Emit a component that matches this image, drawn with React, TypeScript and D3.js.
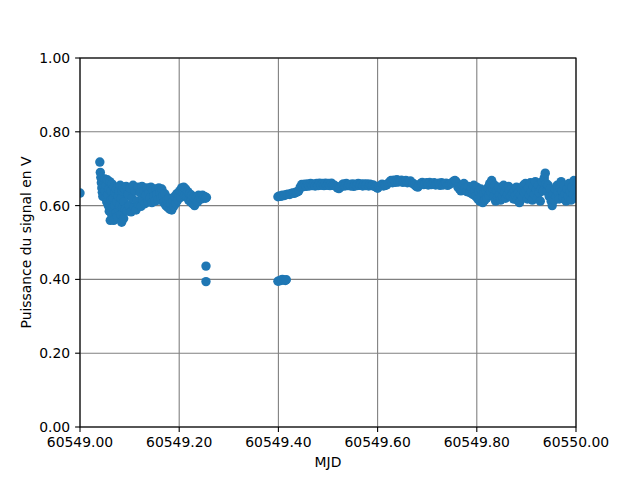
import * as React from 'react'
import * as d3 from 'd3'

// MJD day of the run; times below are fractions of that day
const MJD0 = 60549

// opening sample at midnight
const startT = [0.000]
const startV = [0.634]

// first pass: noisy block from ~.04 to ~.256
const passAT = [
  0.040, 0.041, 0.042, 0.043, 0.044, 0.045, 0.046, 0.047, 0.048, 0.050,
  0.051, 0.052, 0.053, 0.054, 0.055, 0.056, 0.057, 0.058, 0.059, 0.060,
  0.061, 0.062, 0.063, 0.064, 0.065, 0.066, 0.067, 0.068, 0.069, 0.070,
  0.071, 0.072, 0.073, 0.074, 0.075, 0.076, 0.077, 0.078, 0.079, 0.080,
  0.081, 0.082, 0.083, 0.084, 0.085, 0.086, 0.087, 0.088, 0.089, 0.090,
  0.091, 0.093, 0.095, 0.097, 0.099, 0.101, 0.103, 0.105, 0.107, 0.109,
  0.111, 0.113, 0.115, 0.117, 0.119, 0.121, 0.123, 0.125, 0.127, 0.129,
  0.131, 0.133, 0.135, 0.137, 0.139, 0.141, 0.143, 0.145, 0.147, 0.149,
  0.151, 0.153, 0.155, 0.157, 0.159, 0.161, 0.163, 0.165, 0.167, 0.169,
  0.171, 0.173, 0.175, 0.177, 0.179, 0.181, 0.183, 0.185, 0.187, 0.189,
  0.191, 0.193, 0.195, 0.197, 0.199, 0.201, 0.203, 0.205, 0.207, 0.209,
  0.211, 0.213, 0.215, 0.217, 0.219, 0.221, 0.223, 0.225, 0.227, 0.229,
  0.231, 0.233, 0.235, 0.237, 0.239, 0.241, 0.243, 0.245, 0.247, 0.249,
  0.251, 0.253, 0.255,
]
const passAV = [
  0.718, 0.690, 0.676, 0.662, 0.648, 0.636, 0.625, 0.655, 0.668, 0.672,
  0.640, 0.620, 0.655, 0.610, 0.670, 0.630, 0.600, 0.645, 0.585, 0.665,
  0.560, 0.615, 0.640, 0.575, 0.658, 0.595, 0.620, 0.560, 0.650, 0.600,
  0.635, 0.580, 0.645, 0.610, 0.570, 0.650, 0.625, 0.590, 0.640, 0.600,
  0.655, 0.575, 0.620, 0.555, 0.640, 0.595, 0.650, 0.565, 0.610, 0.645,
  0.590, 0.652, 0.585, 0.630, 0.600, 0.648, 0.583, 0.620, 0.655, 0.595,
  0.640, 0.588, 0.612, 0.650, 0.600, 0.635, 0.598, 0.652, 0.615, 0.640,
  0.605, 0.628, 0.648, 0.610, 0.635, 0.620, 0.650, 0.608, 0.642, 0.625,
  0.612, 0.645, 0.630, 0.615, 0.648, 0.635, 0.620, 0.645, 0.625, 0.608,
  0.632, 0.600, 0.615, 0.595, 0.620, 0.590, 0.605, 0.588, 0.612, 0.598,
  0.625, 0.605, 0.632, 0.615, 0.628, 0.640, 0.622, 0.648, 0.635, 0.650,
  0.628, 0.645, 0.625, 0.638, 0.615, 0.632, 0.610, 0.628, 0.605, 0.622,
  0.600, 0.615, 0.625, 0.610, 0.628, 0.620, 0.625, 0.618, 0.628, 0.622,
  0.625, 0.620, 0.622,
]

// two low readings at the end of the first pass
const dropAT = [0.254, 0.254]
const dropAV = [0.436, 0.394]

// low readings at the start of the second pass
const dropBT = [0.399, 0.402, 0.405, 0.408, 0.411, 0.414, 0.416]
const dropBV = [0.395, 0.396, 0.398, 0.400, 0.398, 0.397, 0.399]

// second pass, steady part
const passBT = [
  0.399, 0.402, 0.405, 0.408, 0.411, 0.414, 0.417, 0.420, 0.423, 0.426,
  0.429, 0.432, 0.435, 0.438, 0.441, 0.444, 0.447, 0.450, 0.453, 0.456,
  0.459, 0.462, 0.465, 0.468, 0.471, 0.474, 0.477, 0.480, 0.483, 0.486,
  0.489, 0.492, 0.495, 0.498, 0.501, 0.504, 0.507, 0.510, 0.513, 0.516,
  0.519, 0.522, 0.525, 0.528, 0.531, 0.534, 0.537, 0.540, 0.543, 0.546,
  0.549, 0.552, 0.555, 0.558, 0.561, 0.564, 0.567, 0.570, 0.573, 0.576,
  0.579, 0.582, 0.585, 0.588, 0.591, 0.594, 0.597, 0.600, 0.603, 0.606,
  0.609, 0.612, 0.615, 0.618, 0.621, 0.624, 0.627, 0.630, 0.633, 0.636,
  0.639, 0.642, 0.645, 0.648, 0.651, 0.654, 0.657, 0.660, 0.663, 0.666,
  0.669, 0.672, 0.675, 0.678, 0.681, 0.684, 0.687, 0.690, 0.693, 0.696,
  0.699, 0.702, 0.705, 0.708, 0.711, 0.714, 0.717, 0.720, 0.723, 0.726,
  0.729, 0.732, 0.735, 0.738, 0.741, 0.744, 0.747, 0.750, 0.753, 0.756,
  0.759, 0.762, 0.765, 0.768, 0.771, 0.774, 0.777, 0.780, 0.783, 0.786,
]
const passBV = [
  0.624, 0.626, 0.625, 0.628, 0.627, 0.629, 0.630, 0.631, 0.630, 0.633,
  0.634, 0.633, 0.636, 0.637, 0.640, 0.650, 0.657, 0.651, 0.658, 0.652,
  0.659, 0.653, 0.660, 0.654, 0.659, 0.653, 0.660, 0.654, 0.661, 0.655,
  0.660, 0.654, 0.661, 0.655, 0.660, 0.654, 0.661, 0.655, 0.655, 0.652,
  0.648, 0.646, 0.650, 0.655, 0.659, 0.653, 0.660, 0.654, 0.657, 0.653,
  0.659, 0.652, 0.658, 0.654, 0.660, 0.655, 0.659, 0.653, 0.659, 0.654,
  0.659, 0.653, 0.658, 0.654, 0.656, 0.652, 0.650, 0.647, 0.652, 0.654,
  0.658, 0.653, 0.655, 0.656, 0.660, 0.664, 0.668, 0.662, 0.669, 0.663,
  0.670, 0.664, 0.666, 0.669, 0.663, 0.665, 0.668, 0.662, 0.664, 0.667,
  0.661, 0.660, 0.656, 0.652, 0.650, 0.655, 0.660, 0.663, 0.657, 0.659,
  0.662, 0.656, 0.663, 0.657, 0.659, 0.662, 0.656, 0.658, 0.661, 0.655,
  0.662, 0.656, 0.658, 0.661, 0.655, 0.657, 0.660, 0.662, 0.666, 0.668,
  0.664, 0.650, 0.645, 0.640, 0.655, 0.660, 0.648, 0.638, 0.652, 0.635,
]

// second pass, noisy tail to the end of the day
const tailT = [
  0.789, 0.790, 0.792, 0.794, 0.796, 0.798, 0.800, 0.802, 0.804, 0.806,
  0.808, 0.810, 0.812, 0.814, 0.816, 0.818, 0.820, 0.822, 0.824, 0.826,
  0.828, 0.830, 0.832, 0.834, 0.836, 0.838, 0.840, 0.842, 0.844, 0.846,
  0.848, 0.850, 0.852, 0.854, 0.856, 0.858, 0.860, 0.862, 0.864, 0.866,
  0.868, 0.870, 0.872, 0.874, 0.876, 0.878, 0.880, 0.882, 0.884, 0.886,
  0.888, 0.890, 0.892, 0.894, 0.896, 0.898, 0.900, 0.902, 0.904, 0.906,
  0.908, 0.910, 0.912, 0.914, 0.916, 0.918, 0.920, 0.922, 0.924, 0.926,
  0.928, 0.930, 0.932, 0.934, 0.936, 0.938, 0.940, 0.942, 0.944, 0.946,
  0.948, 0.950, 0.952, 0.954, 0.956, 0.958, 0.960, 0.962, 0.964, 0.966,
  0.968, 0.970, 0.972, 0.974, 0.976, 0.978, 0.980, 0.982, 0.984, 0.986,
  0.988, 0.990, 0.992, 0.994, 0.996, 0.998, 1.000, 1.002,
]
const tailV = [
  0.645, 0.648, 0.630, 0.655, 0.640, 0.625, 0.650, 0.618, 0.638, 0.612,
  0.645, 0.625, 0.608, 0.632, 0.615, 0.640, 0.620, 0.648, 0.628, 0.660,
  0.638, 0.668, 0.645, 0.625, 0.655, 0.612, 0.640, 0.622, 0.650, 0.630,
  0.615, 0.645, 0.625, 0.655, 0.635, 0.620, 0.648, 0.630, 0.652, 0.640,
  0.625, 0.645, 0.632, 0.618, 0.640, 0.628, 0.650, 0.615, 0.635, 0.608,
  0.630, 0.645, 0.622, 0.655, 0.635, 0.660, 0.640, 0.618, 0.648, 0.628,
  0.662, 0.638, 0.615, 0.652, 0.630, 0.665, 0.642, 0.620, 0.655, 0.635,
  0.612, 0.645, 0.665, 0.640, 0.675, 0.688, 0.660, 0.638, 0.655, 0.625,
  0.645, 0.612, 0.600, 0.630, 0.615, 0.645, 0.625, 0.655, 0.635, 0.618,
  0.648, 0.665, 0.640, 0.622, 0.655, 0.632, 0.612, 0.645, 0.625, 0.660,
  0.638, 0.615, 0.650, 0.630, 0.668, 0.645, 0.620, 0.660,
]

const xTicks = [0, 0.2, 0.4, 0.6, 0.8, 1.0]
const yTicks = [0, 0.2, 0.4, 0.6, 0.8, 1.0]

const W = 640
const H = 480
const M = { top: 58, right: 64, bottom: 53, left: 80 }
const FONT = 'DejaVu Sans, sans-serif'
const FS = 13.9
const BLUE = '#1f77b4'

const App = () => {
  const iw = W - M.left - M.right
  const ih = H - M.top - M.bottom

  const x = d3.scaleLinear().domain([MJD0, MJD0 + 1]).range([0, iw])
  const y = d3.scaleLinear().domain([0, 1]).range([ih, 0])

  const groups: [number[], number[]][] = [
    [startT, startV],
    [passAT, passAV],
    [dropAT, dropAV],
    [dropBT, dropBV],
    [passBT, passBV],
    [tailT, tailV],
  ]
  const pts: [number, number][] = []
  groups.forEach(([ts, vs]) => {
    ts.forEach((t, i) => pts.push([MJD0 + t, vs[i]]))
  })

  return (
    <svg width={W} height={H} style={{ position: 'absolute', left: 0, top: 0, background: '#fff' }}>
      <defs>
        <clipPath id="plot-clip">
          <rect x={0} y={0} width={iw} height={ih} />
        </clipPath>
      </defs>
      <g transform={`translate(${M.left},${M.top})`}>
        {/* grid */}
        {xTicks.map(t => (
          <line key={'gx' + t} x1={x(MJD0 + t)} x2={x(MJD0 + t)} y1={0} y2={ih} stroke="#808080" strokeWidth={1.1} />
        ))}
        {yTicks.map(t => (
          <line key={'gy' + t} x1={0} x2={iw} y1={y(t)} y2={y(t)} stroke="#808080" strokeWidth={1.1} />
        ))}

        {/* points */}
        <g clipPath="url(#plot-clip)">
          {pts.map((d, i) => (
            <circle key={i} cx={x(d[0])} cy={y(d[1])} r={4.7} fill={BLUE} />
          ))}
        </g>

        {/* frame */}
        <rect x={0} y={0} width={iw} height={ih} fill="none" stroke="#000" strokeWidth={1.1} />

        {/* x ticks */}
        {xTicks.map(t => (
          <g key={'tx' + t} transform={`translate(${x(MJD0 + t)},${ih})`}>
            <line y2={4.9} stroke="#000" strokeWidth={1.1} />
            <text y={19.5} textAnchor="middle" fontFamily={FONT} fontSize={FS} fill="#000">
              {d3.format('.2f')(MJD0 + t)}
            </text>
          </g>
        ))}
        {/* y ticks */}
        {yTicks.map(t => (
          <g key={'ty' + t} transform={`translate(0,${y(t)})`}>
            <line x2={-4.9} stroke="#000" strokeWidth={1.1} />
            <text x={-9.8} dy="0.36em" textAnchor="end" fontFamily={FONT} fontSize={FS} fill="#000">
              {d3.format('.2f')(t)}
            </text>
          </g>
        ))}

        <text x={iw / 2} y={ih + 40} textAnchor="middle" fontFamily={FONT} fontSize={FS} fill="#000">MJD</text>
        <text
          transform={`translate(${-49},${ih / 2}) rotate(-90)`}
          textAnchor="middle"
          fontFamily={FONT}
          fontSize={FS}
          fill="#000"
        >
          Puissance du signal en V
        </text>
      </g>
    </svg>
  )
}

export default App
